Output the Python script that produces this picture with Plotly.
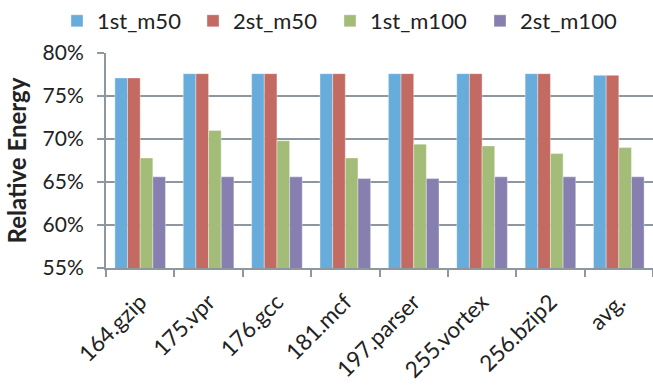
import plotly.graph_objects as go

# Benchmarks and relative energy (%) per configuration
benchmarks = ["164.gzip", "175.vpr", "176.gcc", "181.mcf", "197.parser",
              "255.vortex", "256.bzip2", "avg."]
first_m50 = [77.1, 77.6, 77.6, 77.6, 77.6, 77.6, 77.6, 77.4]
second_m50 = [77.1, 77.6, 77.6, 77.6, 77.6, 77.6, 77.6, 77.4]
first_m100 = [67.8, 71.0, 69.8, 67.8, 69.4, 69.2, 68.3, 69.0]
second_m100 = [65.6, 65.6, 65.6, 65.4, 65.4, 65.6, 65.6, 65.6]

series = [
    ("1st_m50", first_m50, "#68ACDC"),
    ("2st_m50", second_m50, "#C36B63"),
    ("1st_m100", first_m100, "#A3BD79"),
    ("2st_m100", second_m100, "#877FB0"),
]

# left edge (px) of each legend entry across the top
legend_left_px = [57, 193, 330, 480]

axis_grey = "#8E969E"
font_family = "Lato, 'Open Sans', sans-serif"
W, H = 653, 387

fig = go.Figure()
legend_layout = {}
for i, (name, vals, color) in enumerate(series):
    key = "legend" if i == 0 else f"legend{i + 1}"
    fig.add_trace(go.Bar(
        name=name, x=benchmarks, y=vals, legend=key,
        marker=dict(color=color, line=dict(color="rgba(255,255,255,0.6)", width=0.6)),
    ))
    legend_layout[key] = dict(
        orientation="h", xref="container", yref="container",
        x=legend_left_px[i] / W, y=1.0, xanchor="left", yanchor="top",
        font=dict(size=22), itemwidth=30, bgcolor="rgba(0,0,0,0)",
    )

fig.update_layout(
    width=W, height=H,
    margin=dict(l=106, r=0, t=53, b=119, autoexpand=False),
    paper_bgcolor="white", plot_bgcolor="white",
    barmode="group", bargap=0.26, bargroupgap=0,
    font=dict(family=font_family, size=21, color="#222222"),
    showlegend=True,
    **legend_layout,
)

fig.update_yaxes(
    range=[55, 80], dtick=5, ticksuffix="%",
    showgrid=True, gridcolor=axis_grey, gridwidth=2,
    showline=True, linecolor=axis_grey, linewidth=2,
    ticks="outside", ticklen=7, tickcolor=axis_grey, tickwidth=2,
    ticklabelstandoff=9, zeroline=False, automargin=False,
    title=dict(text="<b>Relative Energy</b>", font=dict(size=24), standoff=9),
)
fig.update_xaxes(
    showline=True, linecolor=axis_grey, linewidth=2,
    ticks="outside", ticklen=7, tickcolor=axis_grey, tickwidth=2,
    tickson="boundaries", tickangle=-45, showgrid=False, automargin=False,
    tickfont=dict(size=22.5), ticklabelstandoff=10,
)

fig.write_html("out.html")
